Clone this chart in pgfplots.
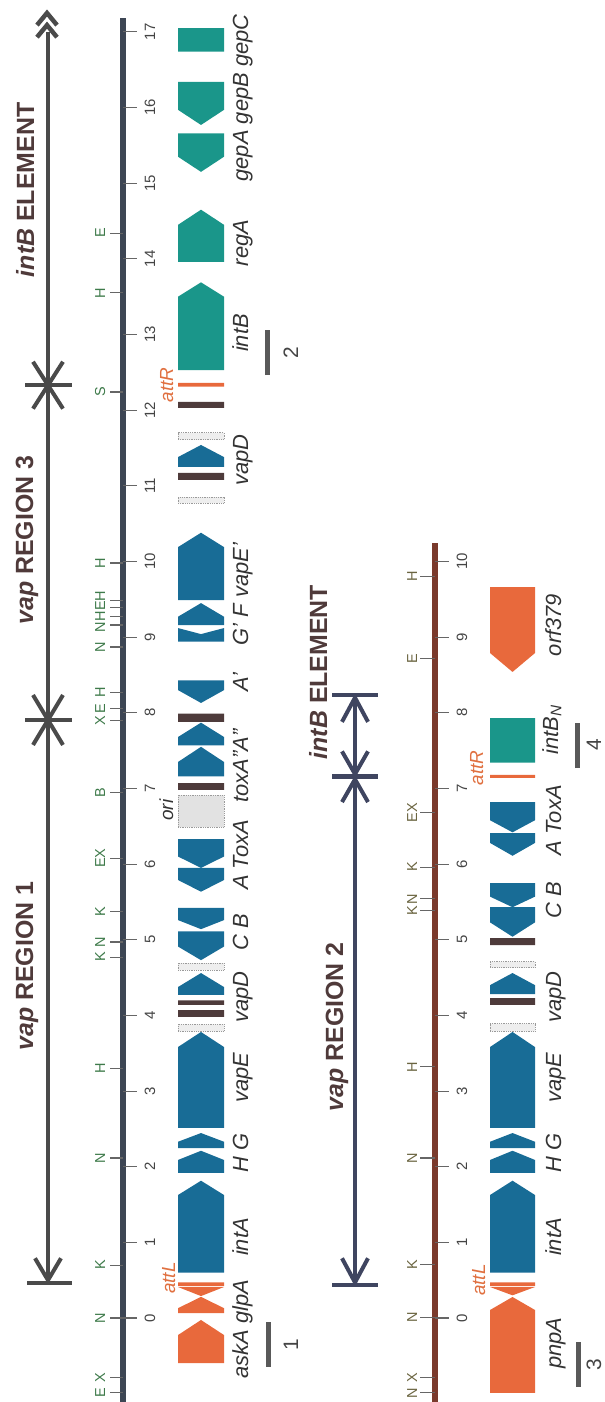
\documentclass[border=0pt]{standalone}
\usepackage{pgfplots}
\pgfplotsset{compat=1.18}
\usepackage{fontspec}
\setmainfont{Liberation Sans}
\definecolor{gblue}{HTML}{186C96}
\definecolor{gteal}{HTML}{1A968A}
\definecolor{gorange}{HTML}{E8693C}
\definecolor{darkbar}{HTML}{4E3B3B}
\definecolor{stip}{HTML}{EEEEEE}
\definecolor{stipb}{HTML}{9A9A9A}
\definecolor{orifill}{HTML}{E2E2E2}
\definecolor{lineA}{HTML}{3D4654}
\definecolor{lineB}{HTML}{7A3A2C}
\definecolor{titlecol}{HTML}{4F3A3A}
\definecolor{arrA}{HTML}{4A4A4A}
\definecolor{arrB}{HTML}{3F4560}
\definecolor{siteA}{HTML}{3E7A4A}
\definecolor{siteB}{HTML}{6A6440}
\definecolor{numcol}{HTML}{444444}
\definecolor{attcol}{HTML}{E07040}
\definecolor{labcol}{HTML}{333333}
\definecolor{tickgray}{HTML}{666666}
\newcommand\ftitle{\fontsize{25}{30}\selectfont\bfseries}
\newcommand\fgene{\fontsize{22}{26}\selectfont\itshape}
\newcommand\fnum{\fontsize{15}{17}\selectfont}
\newcommand\fsite{\fontsize{14.5}{17}\selectfont}
\newcommand\fatt{\fontsize{19}{22}\selectfont\itshape}
\newcommand\fscale{\fontsize{21}{24}\selectfont}
% gene arrow: x0, xc, x1, base, shoulder, tip, colour
\newcommand{\garrow}[7]{\addplot[fill=#7, draw=none, forget plot] coordinates {(#1,#4) (#3,#4) (#3,#5) (#2,#6) (#1,#5)};}
\newcommand{\gL}[4]{\garrow{178}{201}{224}{#1}{#2}{#3}{#4}}
\newcommand{\gR}[4]{\garrow{490}{512.5}{535}{#1}{#2}{#3}{#4}}
\newcommand{\rL}[3]{\addplot[#3, forget plot] coordinates {(178,#1) (224,#1) (224,#2) (178,#2) (178,#1)};}
\newcommand{\rR}[3]{\addplot[#3, forget plot] coordinates {(490,#1) (535,#1) (535,#2) (490,#2) (490,#1)};}
\tikzset{stipbox/.style={fill=stip, draw=stipb, densely dotted, line width=0.8pt},
  oribox/.style={fill=orifill, draw=stipb, densely dotted, line width=0.8pt},
  darkbox/.style={fill=darkbar, draw=none},
  orbox/.style={fill=gorange, draw=none},
  tlbox/.style={fill=gteal, draw=none},
  gl/.style={rotate=90, anchor=base, font=\fgene, text=labcol, inner sep=0pt},
  tl/.style={rotate=90, anchor=base, font=\ftitle, text=titlecol, inner sep=0pt},
  nl/.style={rotate=90, anchor=base, font=\fnum, text=numcol, inner sep=0pt},
  sl/.style={rotate=90, anchor=base, font=\fsite, inner sep=0pt},
  al/.style={rotate=90, anchor=base, font=\fatt, text=attcol, inner sep=0pt}}
\begin{document}
\begin{tikzpicture}
\begin{axis}[name=ax, at={(0,0)}, anchor=south west, width=604bp, height=1402bp,
  scale only axis, xmin=0, xmax=604, ymin=-1.110, ymax=17.422, hide axis, clip=false]

% ---------------- panel 1: scale line and ticks
\addplot[lineA, line width=5.5bp, forget plot] coordinates {(123,-1.11) (123,17.18)};
\addplot[only marks, mark=-, mark size=7, mark options={line width=1.1pt, draw=tickgray}, forget plot]
  coordinates {(130,0)(130,1)(130,2)(130,3)(130,4)(130,5)(130,6)(130,7)(130,8)(130,9)(130,10)(130,11)(130,12)(130,13)(130,14)(130,15)(130,16)(130,17)};
\addplot[only marks, mark=-, mark size=6.5, mark options={line width=1.1pt, draw=tickgray}, forget plot]
  coordinates {(116.5,-0.99)(116.5,-0.79)(116.5,0)(116.5,0.70)(116.5,2.115)(116.5,3.30)(116.5,4.77)(116.5,4.97)(116.5,5.37)(116.5,6.08)(116.5,6.95)(116.5,7.90)(116.5,8.06)(116.5,8.27)(116.5,8.87)(116.5,9.16)(116.5,9.27)(116.5,9.39)(116.5,9.49)(116.5,9.98)(116.5,12.24)(116.5,13.55)(116.5,14.34)};
\pgfplotsinvokeforeach{0,...,17}{\node[nl] at (axis cs:155,#1) {#1};}
\node[sl,text=siteA] at (axis cs:105,-0.99) {E};
\node[sl,text=siteA] at (axis cs:105,-0.79) {X};
\node[sl,text=siteA] at (axis cs:105,0) {N};
\node[sl,text=siteA] at (axis cs:105,0.70) {K};
\node[sl,text=siteA] at (axis cs:105,2.115) {N};
\node[sl,text=siteA] at (axis cs:105,3.30) {H};
\node[sl,text=siteA] at (axis cs:105,4.77) {K};
\node[sl,text=siteA] at (axis cs:105,4.97) {N};
\node[sl,text=siteA] at (axis cs:105,5.37) {K};
\node[sl,text=siteA] at (axis cs:105,6.08) {EX};
\node[sl,text=siteA] at (axis cs:105,6.95) {B};
\node[sl,text=siteA] at (axis cs:105,7.90) {X};
\node[sl,text=siteA] at (axis cs:105,8.06) {E};
\node[sl,text=siteA] at (axis cs:105,8.27) {H};
\node[sl,text=siteA] at (axis cs:105,8.87) {N};
\node[sl,text=siteA] at (axis cs:105,9.13) {N};
\node[sl,text=siteA] at (axis cs:105,9.27) {H};
\node[sl,text=siteA] at (axis cs:105,9.41) {E};
\node[sl,text=siteA] at (axis cs:105,9.54) {H};
\node[sl,text=siteA] at (axis cs:105,9.98) {H};
\node[sl,text=siteA] at (axis cs:105,12.24) {S};
\node[sl,text=siteA] at (axis cs:105,13.55) {H};
\node[sl,text=siteA] at (axis cs:105,14.34) {E};

% ---------------- panel 1: region arrows
\addplot[arrA, line width=4.5bp, forget plot] coordinates {(48,0.463) (48,17.0)};
\addplot[arrA, line width=4.5bp, forget plot] coordinates {(27,0.463) (72,0.463)};
\addplot[arrA, line width=4bp, forget plot] coordinates {(35,0.79) (48,0.50) (61,0.79)};
\addplot[arrA, line width=4.5bp, forget plot] coordinates {(25,7.905) (72,7.905)};
\addplot[arrA, line width=4bp, forget plot] coordinates {(33,7.575) (48,7.905) (63,7.575)};
\addplot[arrA, line width=4bp, forget plot] coordinates {(33,8.235) (48,7.905) (63,8.235)};
\addplot[arrA, line width=4.5bp, forget plot] coordinates {(25,12.33) (72,12.33)};
\addplot[arrA, line width=4bp, forget plot] coordinates {(33,12.02) (48,12.33) (63,12.02)};
\addplot[arrA, line width=4bp, forget plot] coordinates {(33,12.64) (48,12.33) (63,12.64)};
\addplot[arrA, line width=4.5bp, forget plot] coordinates {(37,16.93) (47,17.09) (57,16.93)};
\addplot[arrA, line width=4.5bp, forget plot] coordinates {(37,17.09) (47,17.25) (57,17.09)};
\node[tl] at (axis cs:33,4.653) {\textit{vap} REGION 1};
\node[tl] at (axis cs:33,10.284) {\textit{vap} REGION 3};
\node[tl] at (axis cs:34,14.911) {\textit{intB} ELEMENT};

% ---------------- panel 1: genes
\gL{-0.595}{-0.225}{-0.026}{gorange}
\gL{0.066}{0.13}{0.28}{gorange}
\gL{0.41}{0.41}{0.29}{gorange}
\rL{0.42}{0.47}{orbox}
\gL{0.599}{1.626}{1.815}{gblue}
\gL{1.917}{2.089}{2.211}{gblue}
\gL{2.247}{2.33}{2.445}{gblue}
\gL{2.512}{3.582}{3.781}{gblue}
\rL{3.79}{3.88}{stipbox}
\rL{3.98}{4.07}{darkbox}
\rL{4.14}{4.20}{darkbox}
\gL{4.27}{4.375}{4.56}{gblue}
\rL{4.60}{4.69}{stipbox}
\gL{5.11}{4.91}{4.73}{gblue}
\gL{5.42}{5.26}{5.14}{gblue}
\gL{5.95}{5.79}{5.635}{gblue}
\gL{6.33}{6.10}{5.95}{gblue}
\rL{6.49}{6.91}{oribox}
\rL{6.98}{7.07}{darkbox}
\gL{7.16}{7.35}{7.55}{gblue}
\gL{7.57}{7.68}{7.87}{gblue}
\rL{7.88}{7.99}{darkbox}
\gL{8.43}{8.30}{8.13}{gblue}
\gL{8.94}{9.12}{9.04}{gblue}
\gL{9.16}{9.27}{9.45}{gblue}
\gL{9.49}{10.19}{10.38}{gblue}
\rL{10.77}{10.85}{stipbox}
\rL{11.08}{11.17}{darkbox}
\gL{11.25}{11.38}{11.54}{gblue}
\rL{11.61}{11.70}{stipbox}
\rL{12.03}{12.11}{darkbox}
\rL{12.31}{12.36}{orbox}
\gL{12.53}{13.50}{13.69}{gteal}
\gL{13.96}{14.45}{14.65}{gteal}
\gL{15.66}{15.35}{15.15}{gteal}
\gL{16.34}{15.97}{15.77}{gteal}
\rL{16.74}{17.05}{tlbox}

% ---------------- panel 1: labels
\node[gl] at (axis cs:248,-0.145) {askA glpA};
\node[gl] at (axis cs:248,1.071) {intA};
\node[gl] at (axis cs:248,2.181) {H G};
\node[gl] at (axis cs:248,3.173) {vapE};
\node[gl] at (axis cs:248,4.243) {vapD};
\node[gl] at (axis cs:248,5.102) {C B};
\node[gl] at (axis cs:248,6.12) {A ToxA};
\node[gl] at (axis cs:248,7.297) {toxA''A''};
\node[gl] at (axis cs:248,8.407) {A'};
\node[gl] at (axis cs:248,9.16) {G' F};
\node[gl] at (axis cs:248,9.888) {vapE'};
\node[gl] at (axis cs:248,11.342) {vapD};
\node[gl] at (axis cs:248,13.02) {intB};
\node[gl] at (axis cs:248,14.21) {regA};
\node[gl] at (axis cs:248,16.127) {gepA gepB gepC};
\node[al] at (axis cs:175,0.529) {attL};
\node[al] at (axis cs:173,12.333) {attR};
\node[gl,font=\fatt] at (axis cs:173,6.715) {ori};
% scale bars
\addplot[gray!70!black, line width=5bp, forget plot] coordinates {(268,-0.053) (268,-0.648)};
\node[gl,font=\fscale,text=numcol] at (axis cs:298,-0.357) {1};
\addplot[gray!70!black, line width=5bp, forget plot] coordinates {(267,12.465) (267,13.06)};
\node[gl,font=\fscale,text=numcol] at (axis cs:298,12.756) {2};

% ---------------- panel 2: scale line and ticks
\addplot[lineB, line width=5.5bp, forget plot] coordinates {(435,-1.11) (435,10.24)};
\addplot[only marks, mark=-, mark size=7, mark options={line width=1.1pt, draw=tickgray}, forget plot]
  coordinates {(442,0)(442,1)(442,2)(442,3)(442,4)(442,5)(442,6)(442,7)(442,8)(442,9)(442,10)};
\addplot[only marks, mark=-, mark size=7.5, mark options={line width=1.1pt, draw=tickgray}, forget plot]
  coordinates {(427.5,-0.99)(427.5,-0.79)(427.5,0.01)(427.5,0.71)(427.5,2.115)(427.5,3.32)(427.5,5.39)(427.5,5.54)(427.5,5.96)(427.5,6.68)(427.5,8.72)(427.5,9.80)};
\pgfplotsinvokeforeach{0,...,10}{\node[nl] at (axis cs:467,#1) {#1};}
\node[sl,text=siteB] at (axis cs:417,-0.99) {N};
\node[sl,text=siteB] at (axis cs:417,-0.79) {X};
\node[sl,text=siteB] at (axis cs:417,0.01) {N};
\node[sl,text=siteB] at (axis cs:417,0.71) {K};
\node[sl,text=siteB] at (axis cs:417,2.115) {N};
\node[sl,text=siteB] at (axis cs:417,3.32) {H};
\node[sl,text=siteB] at (axis cs:417,5.39) {K};
\node[sl,text=siteB] at (axis cs:417,5.54) {N};
\node[sl,text=siteB] at (axis cs:417,5.96) {K};
\node[sl,text=siteB] at (axis cs:417,6.68) {EX};
\node[sl,text=siteB] at (axis cs:417,8.72) {E};
\node[sl,text=siteB] at (axis cs:417,9.80) {H};

% ---------------- panel 2: region arrows
\addplot[arrB, line width=4.5bp, forget plot] coordinates {(355,0.436) (355,8.235)};
\addplot[arrB, line width=4.5bp, forget plot] coordinates {(332,0.436) (378,0.436)};
\addplot[arrB, line width=4bp, forget plot] coordinates {(342,0.79) (355,0.47) (368,0.79)};
\addplot[arrB, line width=4.5bp, forget plot] coordinates {(332,7.155) (378,7.155)};
\addplot[arrB, line width=4bp, forget plot] coordinates {(342,7.49) (355,7.19) (368,7.49)};
\addplot[arrB, line width=4bp, forget plot] coordinates {(342,6.82) (355,7.12) (368,6.82)};
\addplot[arrB, line width=4.5bp, forget plot] coordinates {(332,8.235) (378,8.235)};
\addplot[arrB, line width=4bp, forget plot] coordinates {(342,7.88) (355,8.2) (368,7.88)};
\node[tl] at (axis cs:343,3.847) {\textit{vap} REGION 2};
\node[tl] at (axis cs:327,8.539) {\textit{intB} ELEMENT};

% ---------------- panel 2: genes
\gR{-0.99}{0.106}{0.278}{gorange}
\gR{0.41}{0.41}{0.30}{gorange}
\rR{0.42}{0.47}{orbox}
\gR{0.599}{1.626}{1.815}{gblue}
\gR{1.917}{2.089}{2.211}{gblue}
\gR{2.247}{2.33}{2.445}{gblue}
\gR{2.512}{3.582}{3.781}{gblue}
\rR{3.79}{3.89}{stipbox}
\rR{4.14}{4.23}{darkbox}
\gR{4.28}{4.40}{4.56}{gblue}
\rR{4.63}{4.71}{stipbox}
\rR{4.93}{5.02}{darkbox}
\gR{5.43}{5.23}{5.04}{gblue}
\gR{5.75}{5.57}{5.43}{gblue}
\gR{6.41}{6.28}{6.11}{gblue}
\gR{6.82}{6.58}{6.42}{gblue}
\rR{7.14}{7.18}{orbox}
\rR{7.34}{7.93}{tlbox}
\gR{9.66}{8.79}{8.54}{gorange}

% ---------------- panel 2: labels
\node[gl] at (axis cs:561,-0.33) {pnpA};
\node[gl] at (axis cs:561,1.071) {intA};
\node[gl] at (axis cs:561,2.181) {H G};
\node[gl] at (axis cs:561,3.173) {vapE};
\node[gl] at (axis cs:561,4.243) {vapD};
\node[gl] at (axis cs:561,5.525) {C B};
\node[gl] at (axis cs:561,6.58) {A ToxA};
\node[gl] at (axis cs:558,7.773) {intB\textsubscript{N}};
\node[gl] at (axis cs:561,9.16) {orf379};
\node[al] at (axis cs:485,0.502) {attL};
\node[al] at (axis cs:483,7.27) {attR};
\addplot[gray!70!black, line width=5bp, forget plot] coordinates {(578,-0.317) (578,-0.912)};
\node[gl,font=\fscale,text=numcol] at (axis cs:601,-0.621) {3};
\addplot[gray!70!black, line width=5bp, forget plot] coordinates {(577,7.27) (577,7.865)};
\node[gl,font=\fscale,text=numcol] at (axis cs:601,7.574) {4};
\end{axis}
\pgfresetboundingbox
\useasboundingbox (ax.south west) rectangle (ax.north east);
\end{tikzpicture}
\end{document}
